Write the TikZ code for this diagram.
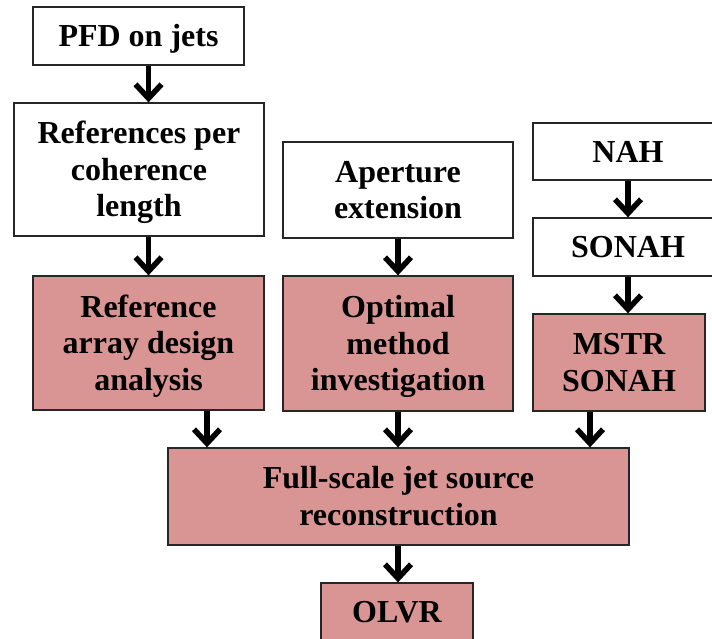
\documentclass[tikz,border=0pt]{standalone}
\usepackage{fontspec}
\setmainfont{Liberation Serif}
\usetikzlibrary{arrows.meta}

\definecolor{boxred}{HTML}{D99594}
% centred lines with a fixed top strut
\newcommand{\boxlines}[1]{\begin{tabular}{@{}c@{}}\rule{0pt}{32pt}#1\end{tabular}}

\begin{document}
\begin{tikzpicture}[x=1pt,y=-1pt,
		box/.style={draw=black!85,line width=1.3pt,inner sep=0pt,
			font=\bfseries\fontsize{32}{36.5}\selectfont},
		whitebox/.style={box,fill=white},
		redbox/.style={box,fill=boxred},
		arr/.style={line width=5.5pt,-{Straight Barb[length=14pt,width=26pt]}}]
		\useasboundingbox (0,0) rectangle (712,638);
		\clip (0,0) rectangle (712,638);
		% top row
		\node[whitebox,minimum width=211pt,minimum height=58pt] (pfd) at (138.5,36) {\boxlines{PFD on jets}};
		\node[whitebox,minimum width=250pt,minimum height=133pt] (refs) at (139,169.5) {\boxlines{References per\\coherence\\length}};
		\node[whitebox,minimum width=230pt,minimum height=96pt] (aper) at (398,190) {\boxlines{Aperture\\extension}};
		\node[whitebox,minimum width=190pt,minimum height=57pt] (nah) at (628,151.5) {\boxlines{NAH}};
		\node[whitebox,minimum width=190pt,minimum height=58pt] (sonah) at (628,247) {\boxlines{SONAH}};
		% shaded row
		\node[redbox,minimum width=231pt,minimum height=134pt] (rad) at (148.5,343) {\boxlines{Reference\\array design\\analysis}};
		\node[redbox,minimum width=230pt,minimum height=135pt] (omi) at (398,343.5) {\boxlines{Optimal\\method\\investigation}};
		\node[redbox,minimum width=172pt,minimum height=97pt] (mstr) at (619,362.5) {\boxlines{MSTR\\SONAH}};
		\node[redbox,minimum width=461pt,minimum height=97pt] (full) at (398.5,496.5) {\boxlines{Full-scale jet source\\reconstruction}};
		\node[redbox,minimum width=152pt,minimum height=58pt] (olvr) at (397,612) {\boxlines{OLVR}};
		% arrows
		\draw[arr] (pfd.south -| rad.center) -- (refs.north -| rad.center);
		\draw[arr] (refs.south -| rad.center) -- (rad.north);
		\draw[arr] (aper) -- (omi);
		\draw[arr] (nah) -- (sonah);
		\draw[arr] (sonah.south) -- (mstr.north -| sonah.south);
		\draw[arr] ([xshift=58.5pt]rad.south) -- ([xshift=58.5pt]rad.south |- full.north);
		\draw[arr] (omi.south) -- (omi.south |- full.north);
		\draw[arr] ([xshift=-29pt]mstr.south) -- ([xshift=-29pt]mstr.south |- full.north);
		\draw[arr] (full.south -| omi.south) -- (olvr.north -| omi.south);
	\end{tikzpicture}
\end{document}
